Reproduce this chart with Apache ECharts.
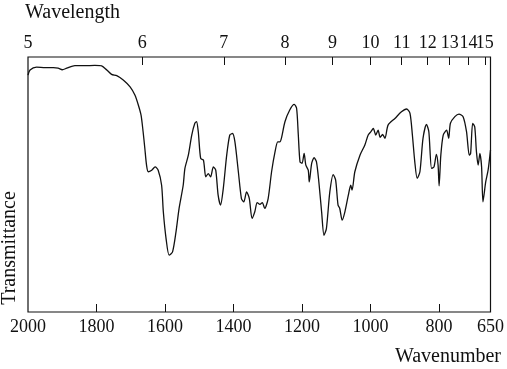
<!DOCTYPE html>
<html>
<head>
<meta charset="utf-8">
<script src="https://cdn.jsdelivr.net/npm/echarts@6/dist/echarts.min.js"></script>
<style>
html,body{margin:0;padding:0;background:#fff;}
#chart{width:507px;height:369px;}
</style>
</head>
<body>
<div id="chart"></div>
<script>
const wavenumber = [2000,1994,1975,1950,1926,1912,1900,1887,1863,1834,1805,1785,1770,1756,1741,1722,1702,1688,1678,1670,1664,1659,1654,1649,1639,1629,1620,1610,1605,1597,1588,1578,1568,1559,1547,1542,1532,1522,1513,1508,1503,1496,1488,1481,1474,1467,1459,1452,1445,1438,1430,1420,1411,1403,1396,1386,1377,1370,1362,1354,1346,1338,1331,1323,1316,1309,1299,1289,1279,1271,1265,1260,1250,1236,1223,1216,1211,1206,1200,1194,1189,1182,1179,1172,1165,1158,1151,1143,1136,1129,1119,1109,1102,1095,1090,1083,1075,1065,1058,1054,1046,1031,1017,1007,999,992,985,978,972,965,958,949,929,910,895,885,878,871,864,856,847,837,830,822,815,808,803,800,795,788,778,772,767,754,742,730,720,712,708,702,696,691,686,681,676,672,664,657,650];
const transmittance = [92.9,94.9,96.0,95.8,95.8,95.6,95.0,95.6,96.6,96.6,96.7,96.5,94.9,93.2,92.7,91.0,88.3,85.1,81.2,77.2,70.7,64.2,57.6,55.0,55.6,56.9,55.6,49.7,39.3,28.8,22.3,23.6,31.4,40.6,49.7,56.3,61.5,69.4,74.0,74.6,70.7,60.2,59.6,53.0,54.3,53.0,56.9,55.6,45.8,41.9,48.4,61.5,69.4,70.0,66.7,55.0,44.5,43.2,47.1,44.5,36.7,39.3,42.9,42.2,42.9,40.6,44.5,55.0,62.8,66.7,66.7,68.3,74.6,79.2,81.4,79.9,69.4,58.9,58.3,62.2,57.6,55.6,51.0,58.3,60.5,58.9,51.0,39.3,30.1,32.7,47.1,53.9,51.7,41.9,40.6,36.0,39.3,45.8,49.7,47.8,55.0,61.5,65.4,69.4,70.7,72.0,69.4,71.3,68.5,69.6,68.1,73.3,75.9,78.5,79.6,77.9,69.4,58.9,52.4,55.0,68.1,73.6,70.7,56.3,56.9,61.8,57.6,49.5,61.5,69.4,71.3,68.1,74.0,76.6,77.6,76.6,70.7,61.5,62.2,74.0,72.6,62.8,57.6,62.2,56.9,43.2,51.0,55.6,63.5];
const wavenumberTicks = [2000,1800,1600,1400,1200,1000,800,650];
const wavelengthTicks = [5,6,7,8,9,10,11,12,13,14,15];

const chart = echarts.init(document.getElementById('chart'), null, {renderer:'canvas'});
const font = 'Liberation Serif';
const ink = '#111';
const topVals = wavelengthTicks.map(l => 10000 / l);
// split top labels over two overlapping axes so that none is auto-hidden
const topA = topVals.filter((v,i)=>i%2===0);
const topB = topVals.filter((v,i)=>i%2===1);
const topLabel = vals => ({customValues:vals,showMinLabel:true,showMaxLabel:true,hideOverlap:false,minMargin:0,margin:5,fontFamily:font,fontSize:18,color:ink,formatter:v=>String(Math.round(10000/v))});
chart.setOption({
  animation:false,
  backgroundColor:'#fff',
  grid:{left:28,right:16,top:57,bottom:57,show:true,borderColor:ink,borderWidth:1.2},
  xAxis:[{
    type:'value',min:650,max:2000,inverse:true,position:'bottom',
    axisLine:{show:false},splitLine:{show:false},
    axisTick:{show:true,inside:true,length:8,customValues:wavenumberTicks.filter(v=>v!==2000&&v!==650),lineStyle:{color:ink,width:1}},
    axisLabel:{customValues:wavenumberTicks,showMinLabel:true,showMaxLabel:true,hideOverlap:false,margin:6,fontFamily:font,fontSize:18,color:ink,formatter:v=>String(v)}
  },{
    type:'value',min:650,max:2000,inverse:true,position:'top',offset:0,
    axisLine:{show:false},splitLine:{show:false},
    axisTick:{show:true,inside:true,length:8,customValues:topVals.slice(1),lineStyle:{color:ink,width:1}},
    axisLabel:topLabel(topA)
  },{
    type:'value',min:650,max:2000,inverse:true,position:'top',offset:0,
    axisLine:{show:false},splitLine:{show:false},axisTick:{show:false},
    axisLabel:topLabel(topB)
  }],
  yAxis:{type:'value',min:0,max:100,axisLine:{show:false},axisTick:{show:false},axisLabel:{show:false},splitLine:{show:false}},
  graphic:[
    {type:'text',left:25,top:3,style:{text:'Wavelength',font:'20px "Liberation Serif"',fill:ink}},
    {type:'text',right:6,top:347,style:{text:'Wavenumber',font:'20px "Liberation Serif"',fill:ink}},
    {type:'text',x:10,y:248,rotation:Math.PI/2,style:{text:'Transmittance',font:'20px "Liberation Serif"',fill:ink,align:'center',verticalAlign:'middle'}}
  ],
  series:[{
    type:'line',xAxisIndex:0,
    data:wavenumber.map((w,i)=>[w,transmittance[i]]),
    showSymbol:false,smooth:0.25,
    lineStyle:{color:ink,width:1.3}
  }]
});
</script>
</body>
</html>
